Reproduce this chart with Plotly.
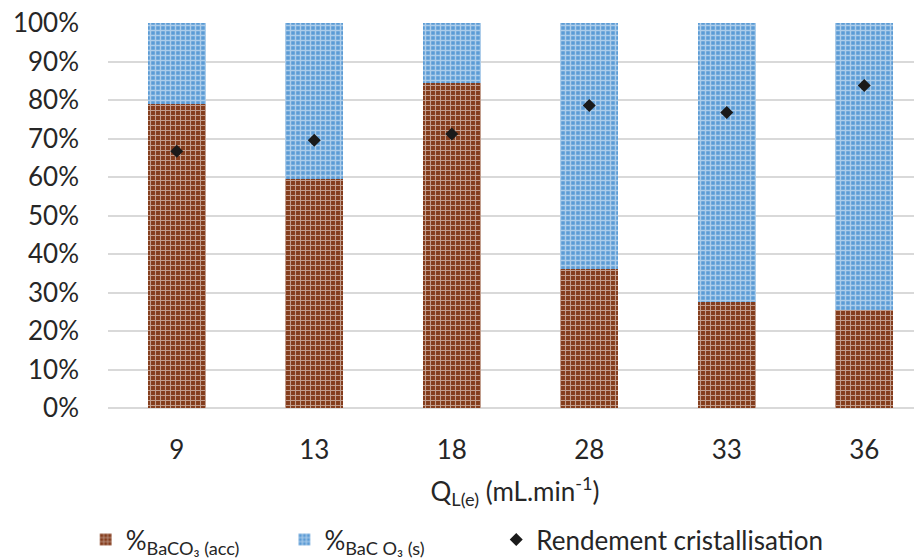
import plotly.graph_objects as go

categories = ["9", "13", "18", "28", "33", "36"]
acc_pct = [0.79, 0.595, 0.845, 0.36, 0.275, 0.255]
s_pct = [1 - v for v in acc_pct]
rendement = [0.667, 0.696, 0.712, 0.786, 0.768, 0.838]
y_ticks = [0, 0.1, 0.2, 0.3, 0.4, 0.5, 0.6, 0.7, 0.8, 0.9, 1.0]
y_ticklabels = ["0%", "10%", "20%", "30%", "40%", "50%", "60%", "70%", "80%", "90%", "100%"]

brown = "#843c1c"
blue = "#5b9bd5"
font_main = "Lato, 'Open Sans', sans-serif"
serif = "'DejaVu Serif', 'Liberation Serif', serif"

name_acc = "%<span style='font-family:" + serif + "'><sub>BaCO₃ (acc)</sub></span>" + "\u00a0" * 6
name_s = "%<span style='font-family:" + serif + "'><sub>BaC O₃ (s)</sub></span>" + "\u00a0" * 10

fig = go.Figure()
fig.add_trace(go.Bar(
    x=categories, y=acc_pct, name=name_acc,
    marker=dict(color=brown, line=dict(width=0),
                pattern=dict(shape="+", fgcolor="white", bgcolor=brown, size=5, solidity=0.38)),
))
fig.add_trace(go.Bar(
    x=categories, y=s_pct, name=name_s,
    marker=dict(color=blue, line=dict(width=0),
                pattern=dict(shape="+", fgcolor="white", bgcolor=blue, size=5, solidity=0.5)),
))
fig.add_trace(go.Scatter(
    x=categories, y=rendement, name="Rendement cristallisation", mode="markers",
    marker=dict(symbol="diamond", color="#1a1a1a", size=10),
))

# page body has an 8px default margin: figure is sized/offset to compensate
fig.update_layout(
    width=914, height=551,
    barmode="stack", bargap=0.58,
    plot_bgcolor="white", paper_bgcolor="white",
    margin=dict(l=100, r=0, t=15, b=151),
    font=dict(family=font_main, size=26, color="#262626"),
    legend=dict(orientation="h", xref="container", yref="container", x=0.085, y=0.035,
                xanchor="left", yanchor="middle", font=dict(size=26),
                traceorder="normal"),
    xaxis=dict(range=[-0.5, 5.42], showgrid=False, ticks="", showline=False, automargin=False,
               tickfont=dict(size=26), ticklabelstandoff=24,
               title=dict(text="Q<sub>L(e)</sub> (mL.min<sup>-1</sup>)", font=dict(size=26), standoff=18)),
    yaxis=dict(range=[0, 1.0005], tickmode="array", tickvals=y_ticks, ticktext=y_ticklabels,
               showgrid=True, automargin=False, ticklabeloverflow="allow",
               gridcolor="#d9d9d9", gridwidth=1.5, zeroline=True, zerolinecolor="#d9d9d9",
               zerolinewidth=1.5, ticks="", ticklabelstandoff=28, tickfont=dict(size=26)),
)

fig.write_html("out.html")
